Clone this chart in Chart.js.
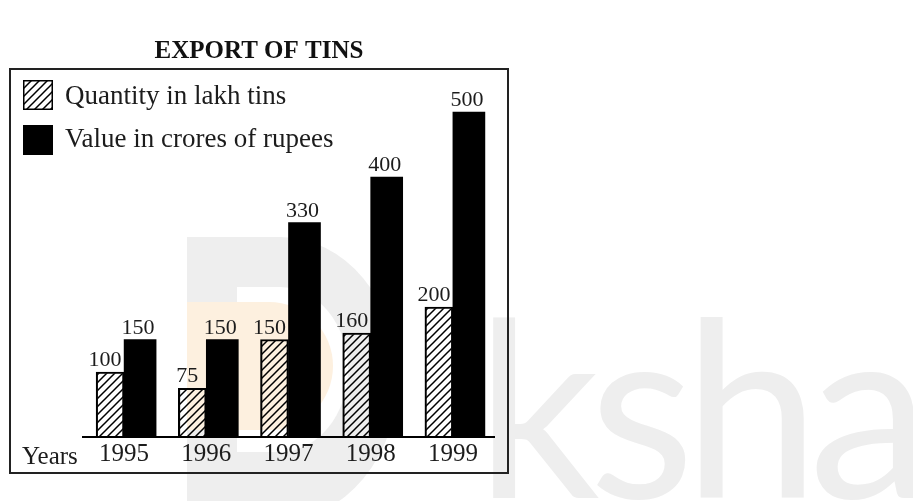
<!DOCTYPE html>
<html>
<head>
<meta charset="utf-8">
<title>Export of Tins</title>
<script src="https://cdn.jsdelivr.net/npm/chart.js@4.4.1/dist/chart.umd.min.js"></script>
<style>
  html, body { margin: 0; padding: 0; background: #fff; }
  #wrap { width: 913px; height: 501px; }
</style>
</head>
<body>
<div id="wrap"><canvas id="chart" width="913" height="501"></canvas></div>
<script>
// data
const years = ["1995", "1996", "1997", "1998", "1999"];
const quantityLakhTins = [100, 75, 150, 160, 200];
const valueCrores = [150, 150, 330, 400, 500];
const seriesNames = ["Quantity in lakh tins", "Value in crores of rupees"];
const chartTitle = "EXPORT OF TINS";
const axisName = "Years";

const SERIF = '"Liberation Serif", "Times New Roman", serif';
const INK = "#1c1c1c";
const FRAME = { x: 10, y: 69, w: 498, h: 404 };

const canvas = document.getElementById("chart");
const ctx = canvas.getContext("2d");

// diagonal "/" hatching on a transparent tile
function hatchPattern() {
  const c = document.createElement("canvas");
  c.width = 8; c.height = 8;
  const g = c.getContext("2d");
  g.strokeStyle = "#000";
  g.lineWidth = 1.5;
  g.beginPath();
  g.moveTo(-2, 10); g.lineTo(10, -2);
  g.moveTo(-2, 2); g.lineTo(2, -2);
  g.moveTo(6, 10); g.lineTo(10, 6);
  g.stroke();
  return ctx.createPattern(c, "repeat");
}
const hatch = hatchPattern();

// faint site logo sitting behind everything
const watermark = {
  id: "watermark",
  beforeDraw(chart) {
    const g = chart.ctx;
    g.save();
    const dShape = (l, t, r, b, body) => {
      const ry = (b - t) / 2;
      g.beginPath();
      g.moveTo(l, t);
      g.lineTo(body, t);
      g.ellipse(body, t + ry, r - body, ry, 0, -Math.PI / 2, Math.PI / 2);
      g.lineTo(l, b);
      g.closePath();
      g.fill();
    };
    g.fillStyle = "#eeeeee";
    dShape(187, 237, 398, 520, 280);
    g.fillStyle = "#ffffff";
    dShape(237, 287, 348, 452, 280);
    g.fillStyle = "#fdf0df";
    dShape(187, 302, 333, 430, 269);
    g.fillStyle = "#eeeeee";
    g.font = '400 244px Lato, "Open Sans", sans-serif';
    g.letterSpacing = "-11px";
    g.textBaseline = "alphabetic";
    g.fillText("ksha", 476, 498);
    g.restore();
  }
};

// value printed above each bar
const valueLabels = {
  id: "valueLabels",
  afterDatasetsDraw(chart) {
    const g = chart.ctx;
    g.save();
    g.font = `22px ${SERIF}`;
    g.fillStyle = INK;
    g.textAlign = "center";
    g.textBaseline = "alphabetic";
    const shift = [-5, -2];
    chart.data.datasets.forEach((ds, di) => {
      chart.getDatasetMeta(di).data.forEach((bar, i) => {
        g.fillText(String(ds.data[i]), bar.x + shift[di], bar.y - 6);
      });
    });
    g.restore();
  }
};

// box, title, legend and axis caption
const frame = {
  id: "frame",
  afterDraw(chart) {
    const g = chart.ctx;
    g.save();
    g.strokeStyle = "#222";
    g.lineWidth = 2;
    g.strokeRect(FRAME.x, FRAME.y, FRAME.w, FRAME.h);

    g.fillStyle = "#111";
    g.font = `bold 25px ${SERIF}`;
    g.textAlign = "center";
    g.textBaseline = "alphabetic";
    g.fillText(chartTitle, FRAME.x + FRAME.w / 2, 58);

    g.textAlign = "left";
    g.font = `27px ${SERIF}`;
    const rows = [{ top: 80, base: 104 }, { top: 125, base: 147 }];
    chart.data.datasets.forEach((ds, i) => {
      const r = rows[i];
      g.fillStyle = ds.backgroundColor;
      g.fillRect(23, r.top, 30, 30);
      if (ds.borderWidth) {
        g.strokeStyle = "#000";
        g.lineWidth = 1.5;
        g.strokeRect(23.75, r.top + 0.75, 28.5, 28.5);
      }
      g.fillStyle = INK;
      g.fillText(ds.label, 65, r.base);
    });

    g.font = `25px ${SERIF}`;
    g.fillText(axisName, 22, 464);
    g.restore();
  }
};

new Chart(ctx, {
  type: "bar",
  data: {
    labels: years,
    datasets: [
      {
        label: seriesNames[0],
        data: quantityLakhTins,
        backgroundColor: hatch,
        borderColor: "#000",
        borderWidth: 1.5,
        borderSkipped: "bottom",
        barThickness: 28
      },
      {
        label: seriesNames[1],
        data: valueCrores,
        backgroundColor: "#000",
        borderWidth: 0,
        barThickness: 32
      }
    ]
  },
  options: {
    responsive: false,
    animation: false,
    layout: { padding: { left: 83, right: 419, top: 47, bottom: 30 } },
    plugins: {
      legend: { display: false },
      tooltip: { enabled: false },
      title: { display: false }
    },
    scales: {
      x: {
        grid: { display: false, drawTicks: false },
        border: { display: true, color: "#000", width: 2 },
        ticks: { color: INK, font: { family: SERIF, size: 25 }, padding: 2 }
      },
      y: { display: false, min: 0, max: 600 }
    }
  },
  plugins: [watermark, valueLabels, frame]
});
</script>
</body>
</html>
